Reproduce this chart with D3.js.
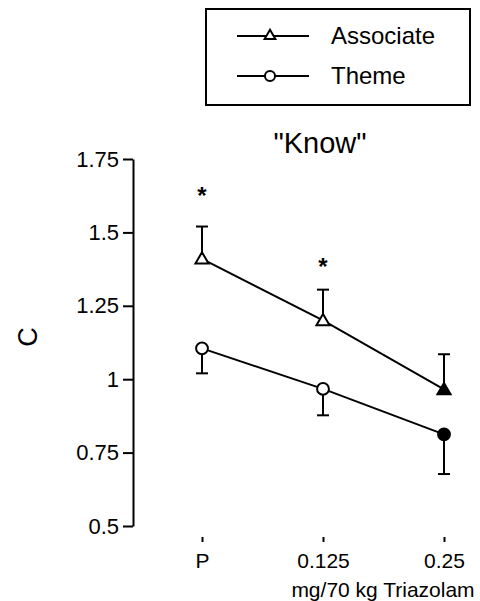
<!DOCTYPE html>
<html>
<head>
<meta charset="utf-8">
<script src="https://cdn.jsdelivr.net/npm/d3@7"></script>
<style>
  body { margin: 0; background: #fff; }
  svg text { font-family: "Liberation Sans", Arial, Helvetica, sans-serif; fill: #000; }
</style>
</head>
<body>
<svg id="chart" width="480" height="601"></svg>
<script>
// dati
const doses = ["P", "0.125", "0.25"];
const associateMean = [1.41, 1.20, 0.965];
const associateErr = [0.11, 0.105, 0.12];   // barra verso l'alto
const themeMean = [1.105, 0.967, 0.812];
const themeErr = [0.085, 0.09, 0.135];      // barra verso il basso
const filled = [false, false, true];
const starValues = [1.63, 1.39];            // asterischi (P, 0.125)
const yTicks = [0.5, 0.75, 1, 1.25, 1.5, 1.75];
const yTickLabels = ["0.5", "0.75", "1", "1.25", "1.5", "1.75"];

const svg = d3.select("#chart");

const x = d3.scalePoint().domain(doses).range([202, 444]);
const y = d3.scaleLinear().domain([0.5, 1.75]).range([526, 159]);

// ----- asse Y
const yAxis = svg.append("g")
  .attr("transform", "translate(133,0)")
  .call(d3.axisLeft(y).tickValues(yTicks)
    .tickFormat((d, i) => yTickLabels[i])
    .tickSize(10).tickSizeOuter(0).tickPadding(4));
yAxis.select(".domain").attr("stroke-width", 2);
yAxis.selectAll(".tick line").attr("stroke-width", 2);
yAxis.selectAll("text").attr("font-size", 22).attr("fill", "#000");

// ----- asse X
const xAxis = svg.append("g")
  .attr("transform", "translate(0,537)")
  .call(d3.axisBottom(x).tickSize(5).tickSizeOuter(0).tickPadding(11));
xAxis.select(".domain").attr("stroke-width", 2)
  .attr("d", `M${x("P")},542V537H${x("0.25")}V542`);
xAxis.selectAll(".tick line").attr("stroke-width", 2);
xAxis.selectAll("text").attr("font-size", 21).attr("fill", "#000");

svg.append("text")
  .attr("x", 383).attr("y", 597)
  .attr("text-anchor", "middle")
  .attr("font-size", 21)
  .text("mg/70 kg Triazolam");

svg.append("text")
  .attr("transform", "translate(37,337) rotate(-90)")
  .attr("text-anchor", "middle")
  .attr("font-size", 27)
  .text("C");

svg.append("text")
  .attr("x", 320).attr("y", 153)
  .attr("text-anchor", "middle")
  .attr("font-size", 29)
  .text("\"Know\"");

// ----- serie
const line = d3.line().x((d, i) => x(doses[i])).y(d => y(d));
const capW = 6;

function drawSeries(means, errs, dir, shape) {
  const g = svg.append("g");
  // barre d'errore
  means.forEach((m, i) => {
    const cx = x(doses[i]);
    const end = y(m + dir * errs[i]);
    g.append("line").attr("x1", cx).attr("x2", cx)
      .attr("y1", y(m)).attr("y2", end)
      .attr("stroke", "#000").attr("stroke-width", 2);
    g.append("line").attr("x1", cx - capW).attr("x2", cx + capW)
      .attr("y1", end).attr("y2", end)
      .attr("stroke", "#000").attr("stroke-width", 2);
  });
  g.append("path").datum(means)
    .attr("d", line)
    .attr("fill", "none").attr("stroke", "#000").attr("stroke-width", 2);
  means.forEach((m, i) => {
    const sym = d3.symbol().type(shape).size(shape === d3.symbolTriangle ? 75 : 110);
    g.append("path")
      .attr("d", sym())
      .attr("transform", `translate(${x(doses[i])},${y(m) + (shape === d3.symbolTriangle ? 1 : 0)})`)
      .attr("fill", filled[i] ? "#000" : "#fff")
      .attr("stroke", "#000").attr("stroke-width", 2);
  });
}

drawSeries(associateMean, associateErr, 1, d3.symbolTriangle);
drawSeries(themeMean, themeErr, -1, d3.symbolCircle);

// asterischi
svg.selectAll("text.star")
  .data(starValues)
  .enter().append("text")
  .attr("class", "star")
  .attr("x", (d, i) => x(doses[i]))
  .attr("y", d => y(d) + 10)
  .attr("text-anchor", "middle")
  .attr("font-size", 24)
  .attr("font-weight", "bold")
  .text("*");

// ----- legenda
const legend = svg.append("g");
legend.append("rect")
  .attr("x", 206).attr("y", 9).attr("width", 264).attr("height", 96)
  .attr("fill", "none").attr("stroke", "#000").attr("stroke-width", 2);

const legendItems = [
  { label: "Associate", shape: d3.symbolTriangle },
  { label: "Theme", shape: d3.symbolCircle }
];
legendItems.forEach((it, i) => {
  const ly = 36 + i * 40;
  legend.append("line").attr("x1", 237).attr("x2", 309)
    .attr("y1", ly).attr("y2", ly)
    .attr("stroke", "#000").attr("stroke-width", 2);
  legend.append("path")
    .attr("d", d3.symbol().type(it.shape).size(it.shape === d3.symbolTriangle ? 50 : 80)())
    .attr("transform", `translate(270,${ly})`)
    .attr("fill", "#fff").attr("stroke", "#000").attr("stroke-width", 2);
  legend.append("text")
    .attr("x", 331).attr("y", ly + 8)
    .attr("font-size", 24)
    .text(it.label);
});
</script>
</body>
</html>
